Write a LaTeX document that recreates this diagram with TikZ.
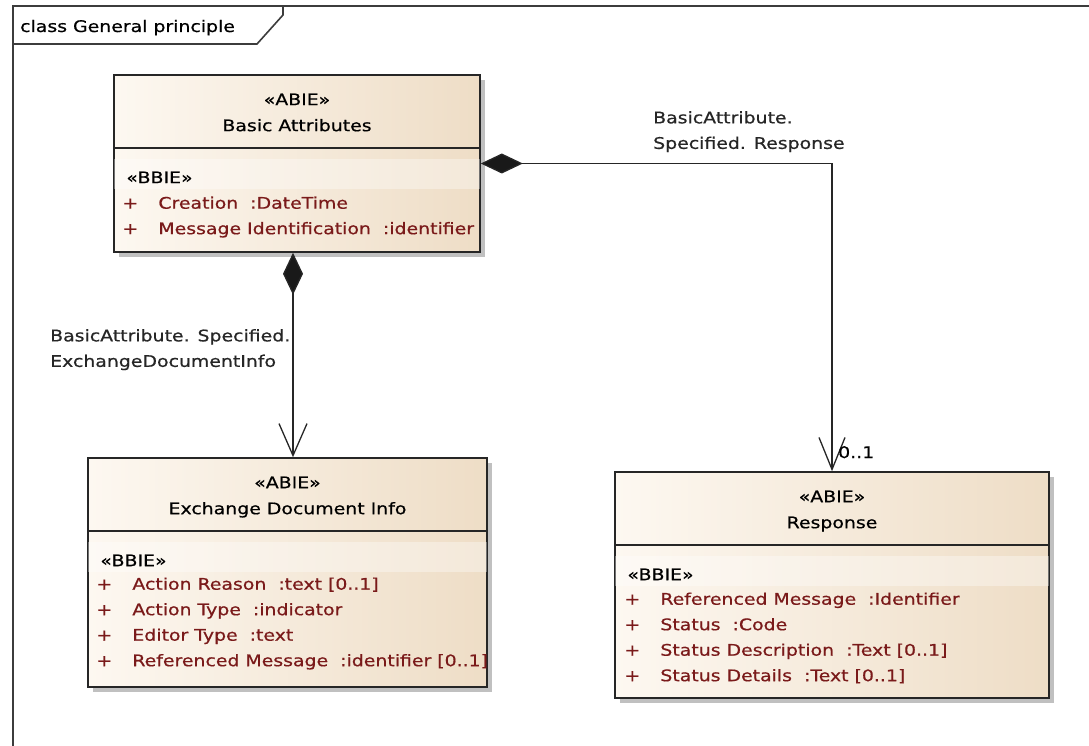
\documentclass[tikz,border=0pt]{standalone}
\usepackage{fontspec}
\setmainfont[FakeStretch=1.18, FakeBold=0.6]{DejaVu Sans}
\usetikzlibrary{arrows.meta,positioning,shadows,calc}
\definecolor{umlleft}{RGB}{253,248,241}
\definecolor{umlright}{RGB}{238,221,198}
\definecolor{attrred}{RGB}{122,26,26}
\definecolor{framegray}{RGB}{60,60,60}
\newcommand{\umlfont}{\fontsize{16}{25.5}\selectfont}
\newcommand{\umlplus}{\makebox[36pt][l]{+}}
\tikzset{
  classbox/.style={draw=black!85, line width=1.6pt, left color=umlleft, right color=umlright, inner sep=0pt,
    drop shadow={shadow xshift=5pt, shadow yshift=-5pt, fill=black!35, opacity=0.7}},
  divider/.style={draw=black!85, line width=1.6pt},
  band/.style={fill=white, opacity=0.35},
  stereo/.style={inner sep=0pt, anchor=base},
  attr/.style={inner sep=0pt, anchor=base west, text=attrred},
  rolelabel/.style={inner sep=0pt, align=left, anchor=north west, text=black!85},
  assoc/.style={draw=black!85, line width=1.3pt},
  frameline/.style={draw=framegray, line width=1.6pt}
}

\begin{document}
\begin{tikzpicture}[x=1pt, y=-1pt, font=\umlfont]
  \useasboundingbox[fill=white] (0,0) rectangle (1089,746);

  % Frame
  \draw[frameline] (13,746) -- (13,6) -- (1089,6);
  \draw[frameline] (13,44) -- (257,44) -- (283,15) -- (283,6);
  \node[inner sep=0pt, anchor=base west] (frametitle) at (20,32) {class General principle};

  % Classes (absolute layout)
  \node[classbox, minimum width=366pt, minimum height=177pt] (basic) at (297,163.5) {};
  \node[classbox, minimum width=399pt, minimum height=229pt] (exchange) at (287.5,572.5) {};
  \node[classbox, minimum width=434pt, minimum height=226pt] (response) at (832,585) {};

  % Compartments
  \foreach \cls in {basic,exchange,response}{
    \fill[band] ([xshift=1pt,yshift=-85pt]\cls.north west) rectangle ([xshift=-1pt,yshift=-115pt]\cls.north east);
    \draw[divider] ([yshift=-74pt]\cls.north west) -- ([yshift=-74pt]\cls.north east);
    \node[stereo] (\cls-st) at ([yshift=-31pt]\cls.north) {«ABIE»};
    \node[attr, text=black] (\cls-bb) at ([xshift=13pt,yshift=-109pt]\cls.north west) {«BBIE»};
  }
  \node[stereo] (basic-name) at ([yshift=-57pt]basic.north) {Basic Attributes};
  \node[stereo] (exchange-name) at ([yshift=-57pt]exchange.north) {Exchange Document Info};
  \node[stereo] (response-name) at ([yshift=-57pt]response.north) {Response};

  % Attributes
  \foreach \txt [count=\i] in {{Creation\ \ :DateTime}, {Message Identification\ \ :identifier}}
    \node[attr] (basic-a\i) at ([xshift=9pt,yshift={-(109+25.5*\i)*1pt}]basic.north west) {\umlplus\txt};
  \foreach \txt [count=\i] in {{Action Reason\ \ :text [0..1]}, {Action Type\ \ :indicator}, {Editor Type\ \ :text}, {Referenced Message\ \ :identifier [0..1]}}
    \node[attr] (exchange-a\i) at ([xshift=9pt,yshift={-(107+25.5*\i)*1pt}]exchange.north west) {\umlplus\txt};
  \foreach \txt [count=\i] in {{Referenced Message\ \ :Identifier}, {Status\ \ :Code}, {Status Description\ \ :Text [0..1]}, {Status Details\ \ :Text [0..1]}}
    \node[attr] (response-a\i) at ([xshift=10pt,yshift={-(108+25.5*\i)*1pt}]response.north west) {\umlplus\txt};

  % Associations
  \draw[assoc, {Diamond[length=42pt, width=20pt, fill=black!90]}-{Straight Barb[length=32pt, width=28pt]}]
    ([xshift=-4pt]basic.south) -- ([xshift=-4pt]basic.south |- exchange.north);
  \draw[assoc, {Diamond[length=42pt, width=20pt, fill=black!90]}-{Straight Barb[length=32pt, width=26pt]}]
    (basic.east) -| (response.north);

  % Role labels
  \node[rolelabel] (resp-role) at (653,111) {BasicAttribute.\\Specified. Response};
  \node[rolelabel] (exch-role) at (50,329) {BasicAttribute. Specified.\\ExchangeDocumentInfo};
  \node[inner sep=0pt, anchor=base west] (resp-mult) at (838,458) {0..1};
\end{tikzpicture}
\end{document}
